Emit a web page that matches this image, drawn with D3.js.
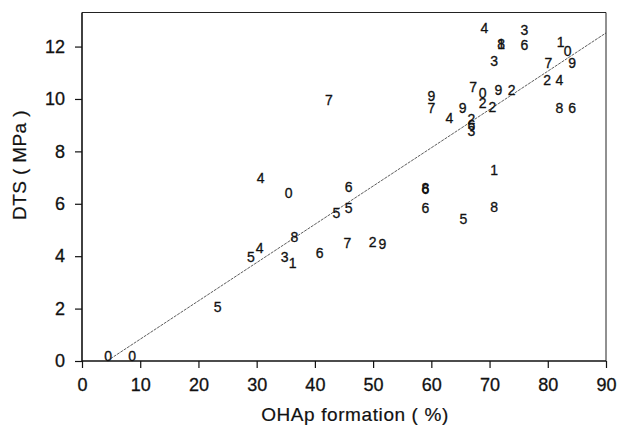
<!DOCTYPE html>
<html><head><meta charset="utf-8">
<script src="https://cdn.jsdelivr.net/npm/d3@7"></script>
<style>body{margin:0;background:#fff}svg{display:block}text{font-family:"Liberation Sans",Arial,sans-serif;fill:#111}</style>
</head><body>
<svg id="c" width="621" height="430"></svg>
<script>
// point labels (digits), OHAp formation (%) and DTS (MPa)
const labels = ["4","3","8","1","6","1","0","3","7","9","2","4","9","7","7","0","9","2","9","2","2","4","2","6","3","8","6","1","8","6","6","8","5","7","4","0","6","5","5","8","4","5","3","1","6","7","2","9","5","0","0"];
const xValues = [69.1,76.0,72.0,72.0,76.0,82.2,83.4,70.8,80.1,84.2,79.9,82.0,60.0,60.0,67.2,68.8,71.5,73.8,65.4,68.8,70.5,63.1,66.9,66.9,66.9,82.0,84.2,70.8,59.0,59.0,59.0,70.8,65.5,42.4,30.7,35.5,45.8,43.7,45.8,36.5,30.5,29.0,34.8,36.2,40.8,45.6,49.9,51.6,23.3,4.5,8.6];
const yValues = [12.71,12.63,12.1,12.1,12.06,12.18,11.83,11.45,11.37,11.37,10.72,10.72,10.12,9.66,10.46,10.23,10.34,10.34,9.66,9.85,9.69,9.27,9.24,9.0,8.78,9.66,9.66,7.29,6.62,6.56,5.85,5.89,5.42,9.96,6.98,6.41,6.64,5.65,5.84,4.73,4.31,3.97,3.97,3.74,4.12,4.50,4.54,4.47,2.06,0.19,0.19];
const fitX = [4.3, 90];
const fitY = [0, 12.52];
const xTicks = [0,10,20,30,40,50,60,70,80,90];
const yTicks = [0,2,4,6,8,10,12];

const svg = d3.select("#c");
const x = d3.scaleLinear().domain([0,90]).range([82,606]);
const y = d3.scaleLinear().domain([0,13.3]).range([361,12.5]);

// frame (top & right)
svg.append("line").attr("x1",x(0)).attr("x2",x(90)).attr("y1",y(13.3)).attr("y2",y(13.3)).attr("stroke","#222").attr("stroke-width",1);
svg.append("line").attr("x1",x(90)).attr("x2",x(90)).attr("y1",y(13.3)).attr("y2",y(0)).attr("stroke","#222").attr("stroke-width",1);

const xa = svg.append("g").attr("transform",`translate(0,${y(0)})`)
  .call(d3.axisBottom(x).tickValues(xTicks).tickSize(7).tickPadding(10).tickFormat(d3.format("d")));
const ya = svg.append("g").attr("transform",`translate(${x(0)},0)`)
  .call(d3.axisLeft(y).tickValues(yTicks).tickSize(7).tickPadding(10).tickFormat(d3.format("d")));
[xa,ya].forEach(a=>{
  a.select(".domain").attr("stroke","#111").attr("stroke-width",1.6);
  a.selectAll(".tick line").attr("stroke","#111").attr("stroke-width",1.2);
  a.selectAll(".tick text").attr("font-size",18).attr("fill","#111")
    .attr("stroke","#111").attr("stroke-width",0.3)
    .style("font-family","'Liberation Sans',Arial,sans-serif");
});
xa.select(".domain").attr("d",`M${x(0)},0H${x(90)}`);
ya.select(".domain").attr("d",`M0,${y(13.3)}V${y(0)}`);

// regression line
svg.append("line").attr("x1",x(fitX[0])).attr("y1",y(fitY[0])).attr("x2",x(fitX[1])).attr("y2",y(fitY[1]))
  .attr("stroke","#333").attr("stroke-width",0.8).attr("stroke-dasharray","3,1");

// points as digits
svg.append("g").selectAll("text").data(labels).join("text")
  .attr("x",(d,i)=>x(xValues[i])).attr("y",(d,i)=>y(yValues[i]))
  .attr("text-anchor","middle").attr("dominant-baseline","central")
  .attr("stroke","#111").attr("stroke-width",0.3)
  .attr("font-size",14).text(d=>d);

// axis titles
svg.append("text").attr("x",355).attr("y",414).attr("text-anchor","middle").attr("dominant-baseline","central")
  .attr("stroke","#111").attr("stroke-width",0.2)
  .attr("font-size",19).attr("letter-spacing",0.6).text("OHAp formation ( %)");
svg.append("text").attr("transform",`translate(19,165) rotate(-90)`)
  .attr("text-anchor","middle").attr("dominant-baseline","central")
  .attr("stroke","#111").attr("stroke-width",0.2)
  .attr("font-size",19).attr("letter-spacing",0.4).text("DTS ( MPa )");
</script>
</body></html>
